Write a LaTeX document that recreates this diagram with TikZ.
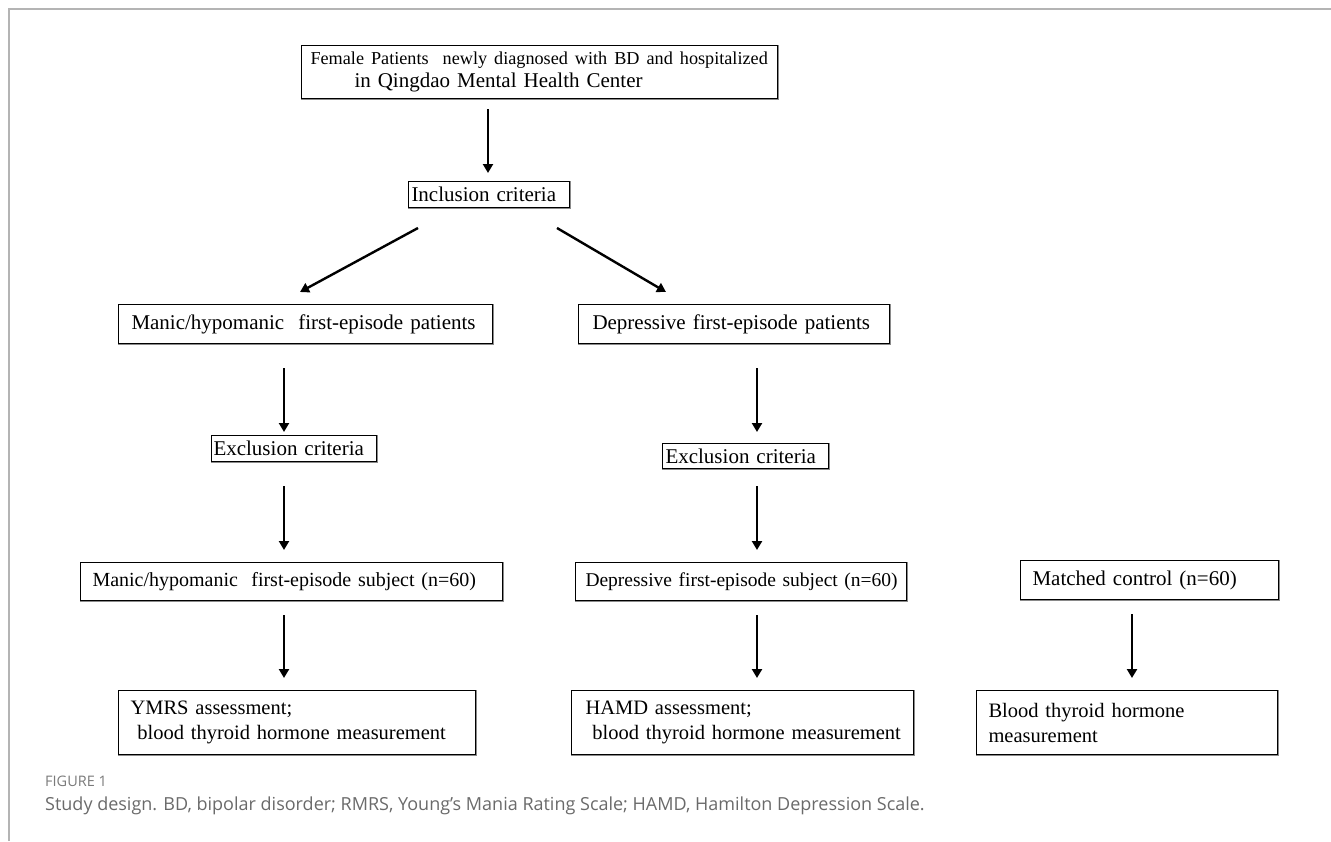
\documentclass[tikz,border=0pt]{standalone}
\usepackage{fontspec}
\setmainfont{Liberation Serif}
\newfontfamily\capfont{Open Sans}
\usetikzlibrary{arrows.meta}
\definecolor{framegray}{HTML}{B4B4B4}
\definecolor{capgray}{HTML}{6A6A6A}
\definecolor{figgray}{HTML}{7A7A7A}
\definecolor{shadowgray}{HTML}{8A8A8A}
\begin{document}
\begin{tikzpicture}[x=1pt,y=-1pt,
  box/.style={draw=black, line width=1pt, anchor=north west, inner ysep=0pt, align=left},
  fa/.style={font=\fontsize{21}{25}\selectfont},
  fb/.style={font=\fontsize{20}{25}\selectfont},
  fc/.style={font=\fontsize{20.5}{25}\selectfont},
  arr/.style={-{Triangle[width=10pt,length=9pt]}, line width=2.4pt},
  boxshadow/.style={shadowgray, line width=1pt}
]
\useasboundingbox (0,0) rectangle (1331,841);
% page frame
\draw[framegray, line width=2pt] (9,841) -- (9,9) -- (1331,9);

% boxes
\node[box, font=\fontsize{21}{23}\selectfont, inner xsep=9pt, text width=458pt, minimum height=53pt] (top) at (301,45)
  {\mbox{\fontsize{18.2}{23}\selectfont Female Patients\ \ newly diagnosed with BD and hospitalized}\\ \mbox{\hspace*{44pt}in Qingdao Mental Health Center}};
\node[box, fa, inner xsep=3pt, text width=155pt, minimum height=26pt] (inc) at (408,181) {\mbox{Inclusion criteria}};
\node[box, fa, inner xsep=13pt, text width=348pt, minimum height=39pt] (manic) at (118,304) {\mbox{Manic/hypomanic\ \ first-episode patients}};
\node[box, fa, inner xsep=14pt, text width=283pt, minimum height=39pt] (dep) at (578,304) {\mbox{Depressive first-episode patients}};
\node[box, fa, inner xsep=2pt, text width=161pt, minimum height=26pt] (exL) at (211,435) {\mbox{Exclusion criteria}};
\node[box, fa, inner xsep=3pt, text width=160pt, minimum height=25pt] (exR) at (662,443) {\mbox{Exclusion criteria}};
\node[box, fb, inner xsep=12pt, text width=398pt, minimum height=38pt] (subL) at (80,562) {\mbox{Manic/hypomanic\ \ first-episode subject (n=60)}};
\node[box, font=\fontsize{19.5}{25}\selectfont, inner xsep=10pt, text width=311pt, minimum height=38pt] (subM) at (575,562) {\mbox{Depressive first-episode subject (n=60)}};
\node[box, fa, inner xsep=12pt, text width=234pt, minimum height=39pt] (ctl) at (1020,560) {\mbox{Matched control (n=60)}};
\node[box, fc, inner xsep=12pt, text width=333pt, minimum height=64pt] (botL) at (118,690) {\mbox{YMRS assessment;}\\ \mbox{\ blood thyroid hormone measurement}};
\node[box, fc, inner xsep=14pt, text width=314pt, minimum height=64pt] (botM) at (571,690) {\mbox{HAMD assessment;}\\ \mbox{\ blood thyroid hormone measurement}};
\node[box, fc, inner xsep=12pt, text width=277pt, minimum height=64pt] (botR) at (976,690) {\mbox{Blood thyroid hormone}\\ \mbox{measurement}};

% slight shadow on right and bottom edges
\foreach \n in {top,inc,manic,dep,exL,exR,subL,subM,ctl,botL,botM,botR}{
  \draw[boxshadow] ([xshift=0.9pt]\n.north east) -- ([xshift=0.9pt,yshift=-0.9pt]\n.south east) -- ([yshift=-0.9pt]\n.south west);
}

% arrow end points
\coordinate (d1s) at (418,228); \coordinate (d1e) at (300,292);
\coordinate (d2s) at (557,228); \coordinate (d2e) at (666,292);
\coordinate (cT) at (488,0); \coordinate (cL) at (284,0); \coordinate (cM) at (757,0); \coordinate (cR) at (1132,0);

\draw[arr] ([yshift=-10pt]top.south -| cT) -- ([yshift=8pt]inc.north -| cT);
\draw[arr] (d1s) -- (d1e);
\draw[arr] (d2s) -- (d2e);
\draw[arr] ([yshift=-24pt]manic.south -| cL) -- ([yshift=3pt]exL.north -| cL);
\draw[arr] ([yshift=-24pt]dep.south -| cM) -- ([yshift=11pt]exR.north -| cM);
\draw[arr] ([yshift=-24pt]exL.south -| cL) -- ([yshift=12pt]subL.north -| cL);
\draw[arr] ([yshift=-17pt]exR.south -| cM) -- ([yshift=12pt]subM.north -| cM);
\draw[arr] ([yshift=-14pt]subL.south -| cL) -- ([yshift=12pt]botL.north -| cL);
\draw[arr] ([yshift=-14pt]subM.south -| cM) -- ([yshift=12pt]botM.north -| cM);
\draw[arr] ([yshift=-14pt]ctl.south -| cR) -- ([yshift=12pt]botR.north -| cR);

% caption
\node[anchor=west, text=figgray, font=\capfont\fontsize{14.5}{17}\selectfont, inner sep=0pt] (fig) at (45,781) {FIGURE 1};
\node[anchor=west, text=capgray, font=\capfont\fontsize{18}{20}\selectfont, inner sep=0pt] (cap) at (45,806)
  {Study design. BD, bipolar disorder; RMRS, Young’s Mania Rating Scale; HAMD, Hamilton Depression Scale.};
\end{tikzpicture}
\end{document}
